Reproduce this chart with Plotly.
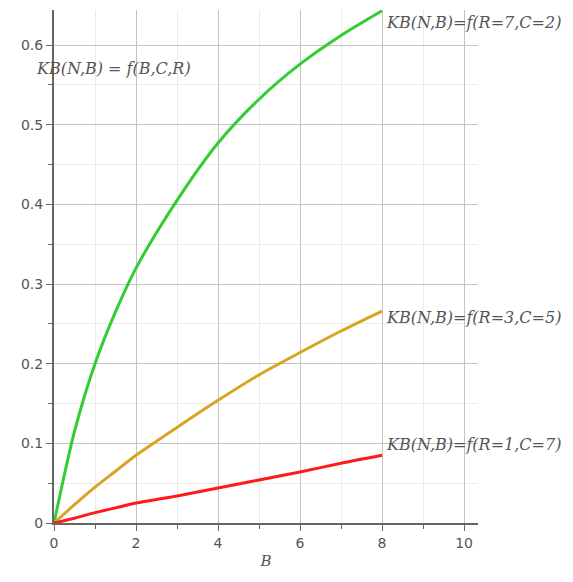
import plotly.graph_objects as go

B = [0, 0.5, 1, 1.5, 2, 3, 4, 5, 6, 7, 8]
green_R7_C2 = [0, 0.115, 0.20, 0.265, 0.32, 0.405, 0.477, 0.532, 0.576, 0.612, 0.643]
orange_R3_C5 = [0, 0.023, 0.045, 0.065, 0.085, 0.12, 0.154, 0.186, 0.214, 0.241, 0.266]
red_R1_C7 = [0, 0.006, 0.013, 0.019, 0.025, 0.034, 0.044, 0.054, 0.064, 0.075, 0.085]

labels = ["KB(N,B)=f(R=7,C=2)", "KB(N,B)=f(R=3,C=5)", "KB(N,B)=f(R=1,C=7)"]
label_shift = [-12, -6, 11]
colors = ["#33cc33", "#d9a520", "#ff1a1a"]
series = [green_R7_C2, orange_R3_C5, red_R1_C7]
title_text = "KB(N,B) = f(B,C,R)"
x_title = "B"

fig = go.Figure()
for ys, c in zip(series, colors):
    fig.add_trace(go.Scatter(x=B, y=ys, mode="lines", line=dict(color=c, width=3, shape="spline", smoothing=0.8),
                             showlegend=False, hoverinfo="skip"))

serif = "DejaVu Serif, Liberation Serif, serif"
for ys, lab, sh in zip(series, labels, label_shift):
    fig.add_annotation(x=B[-1], y=ys[-1], text="<i>" + lab + "</i>", showarrow=False,
                       xanchor="left", yanchor="middle", xshift=2, yshift=sh,
                       font=dict(family=serif, size=16, color="#555"))

fig.add_annotation(x=-0.047, y=0.57, xref="paper", yref="y", text="<i>" + title_text + "</i>",
                   showarrow=False, xanchor="left", yanchor="middle",
                   font=dict(family=serif, size=16, color="#555"))

axis_common = dict(
    showline=True, linecolor="#666", linewidth=2,
    ticks="outside", ticklen=6, tickcolor="#666", tickwidth=1,
    showgrid=True, gridcolor="#c4c4c4", gridwidth=1,
    zeroline=False,
    tickfont=dict(family="DejaVu Sans, sans-serif", size=14, color="#555"),
)

fig.update_xaxes(range=[0, 10.34], tickvals=[0, 2, 4, 6, 8, 10],
                 minor=dict(dtick=1, tick0=0, showgrid=True, gridcolor="#ebebeb", ticks="outside",
                            ticklen=4, tickcolor="#666"),
                 title=dict(text="<i>" + x_title + "</i>", font=dict(family=serif, size=15, color="#555"),
                            standoff=6),
                 **axis_common)
fig.update_yaxes(range=[0, 0.644], tickvals=[0, 0.1, 0.2, 0.3, 0.4, 0.5, 0.6],
                 ticktext=["0", "0.1", "0.2", "0.3", "0.4", "0.5", "0.6"],
                 minor=dict(dtick=0.05, tick0=0, showgrid=True, gridcolor="#ebebeb", ticks="outside",
                            ticklen=4, tickcolor="#666"),
                 **axis_common)

fig.update_layout(width=573, height=582, margin=dict(l=46, r=103, t=2, b=67),
                  plot_bgcolor="white", paper_bgcolor="white")

fig.write_html("out.html")
